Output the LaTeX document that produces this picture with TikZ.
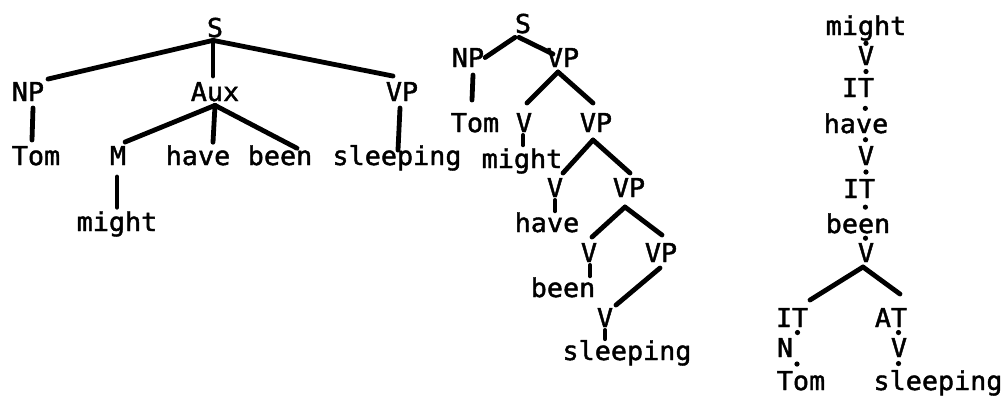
\documentclass[tikz,border=0pt]{standalone}
\usepackage{fontspec}
\newfontfamily\treefont[FakeStretch=1.03,FakeBold=1.6]{DejaVu Sans Mono}
\begin{document}
\begin{tikzpicture}[x=1pt,y=1pt,
  lbl/.style={inner sep=0pt, outer sep=0pt, anchor=base, font=\treefont\fontsize{26}{26}\selectfont},
  edge/.style={line width=4.8pt, line cap=round},
  stubline/.style={line width=4pt, line cap=round, shorten <=3pt, shorten >=1pt},
  dotmark/.style={circle, fill=black, inner sep=0pt, minimum size=5.2pt}]
\useasboundingbox (0,0) rectangle (1005,-402);
% ---------- tree 1 ----------
\node[lbl] (S1) at (215,-37) {S};
\node[lbl] (NP1) at (28,-101) {NP};
\node[lbl] (Aux1) at (215,-101) {Aux};
\node[lbl] (VP1) at (402,-101) {VP};
\node[lbl] (Tom1) at (36,-165) {Tom};
\node[lbl] (M1) at (118,-165) {M};
\node[lbl] (have1) at (198,-165) {have};
\node[lbl] (been1) at (280,-165) {been};
\node[lbl] (sleep1) at (397,-165) {sleeping};
\node[lbl] (might1) at (117,-231) {might};
\draw[edge] ([xshift=-2pt,yshift=-3pt]S1.south) -- ([xshift=20pt,yshift=3pt]NP1.north);
\draw[edge] ([xshift=-2pt,yshift=-4pt]S1.south) -- ([xshift=-2pt,yshift=6pt]Aux1.north);
\draw[edge] ([xshift=-2pt,yshift=-3pt]S1.south) -- ([xshift=-9pt,yshift=6pt]VP1.north);
\draw[edge] ([xshift=5pt,yshift=-7pt]NP1.south) -- ([xshift=-4pt,yshift=6pt]Tom1.north);
\draw[edge] ([yshift=-4pt]Aux1.south) -- ([xshift=7pt,yshift=4pt]M1.north);
\draw[edge] ([yshift=-4pt]Aux1.south) -- ([xshift=15pt,yshift=3pt]have1.north);
\draw[edge] ([yshift=-4pt]Aux1.south) -- ([xshift=17pt,yshift=-3pt]been1.north);
\draw[edge] ([xshift=-2pt,yshift=-7pt]VP1.south) -- ([xshift=1pt,yshift=-5pt]sleep1.north);
\draw[edge] ([xshift=-1pt,yshift=-12pt]M1.south) -- ([xshift=0pt,yshift=4pt]might1.north);
% ---------- tree 2 ----------
\node[lbl] (S2) at (523,-33) {S};
\node[lbl] (NP2) at (468,-67) {NP};
\node[lbl] (VP2a) at (563,-67) {VP};
\node[lbl] (Tom2) at (475,-132) {Tom};
\node[lbl] (V2a) at (524,-132) {V};
\node[lbl] (VP2b) at (596,-132) {VP};
\node[lbl] (might2) at (522,-168) {might};
\node[lbl] (V2b) at (555,-197) {V};
\node[lbl] (VP2c) at (629,-197) {VP};
\node[lbl] (have2) at (547,-232) {have};
\node[lbl] (V2c) at (589,-262) {V};
\node[lbl] (VP2d) at (661,-262) {VP};
\node[lbl] (been2) at (563,-297) {been};
\node[lbl] (V2d) at (605,-327) {V};
\node[lbl] (sleep2) at (627,-360) {sleeping};
\draw[edge] ([xshift=-8pt,yshift=-4pt]S2.south) -- ([xshift=1pt]NP2.east);
\draw[edge] ([xshift=-4pt,yshift=-4pt]S2.south) -- ([xshift=-10pt,yshift=-6pt]VP2a.north);
\draw[edge] ([xshift=5pt,yshift=-8pt]NP2.south) -- ([xshift=-3pt,yshift=13pt]Tom2.north);
\draw[edge] ([xshift=-5pt,yshift=-5pt]VP2a.south) -- ([xshift=3pt,yshift=10pt]V2a.north);
\draw[edge] ([xshift=-5pt,yshift=-5pt]VP2a.south) -- ([xshift=-3pt,yshift=10pt]VP2b.north);
\draw[edge] ([xshift=-3pt,yshift=-8pt]VP2b.south) -- ([xshift=8pt,yshift=5pt]V2b.north);
\draw[edge] ([xshift=-3pt,yshift=-8pt]VP2b.south) -- ([xshift=1pt,yshift=5pt]VP2c.north);
\draw[edge] ([xshift=-4pt,yshift=-10pt]VP2c.south) -- ([xshift=3pt,yshift=6pt]V2c.north);
\draw[edge] ([xshift=-4pt,yshift=-10pt]VP2c.south) -- ([xshift=1pt,yshift=8pt]VP2d.north);
\draw[edge] ([xshift=-1pt,yshift=-6pt]VP2d.south) -- ([xshift=11pt,yshift=3pt]V2d.north);
\draw[stubline] ([xshift=-1pt]V2a.south) -- ([xshift=1pt,yshift=2pt]might2.north);
\draw[stubline] (V2b.south) -- ([xshift=8pt]have2.north);
\draw[stubline] ([xshift=1pt]V2c.south) -- ([xshift=27pt]been2.north);
\draw[stubline] (V2d.south) -- ([xshift=-22pt]sleep2.north);
% ---------- tree 3 ----------
\node[lbl] (might3) at (866,-35) {might};
\node[lbl] (V3a) at (866,-65) {V};
\node[lbl] (IT3a) at (858,-97) {IT};
\node[lbl] (have3) at (856,-133) {have};
\node[lbl] (V3b) at (866,-165) {V};
\node[lbl] (IT3b) at (859,-198) {IT};
\node[lbl] (been3) at (858,-233) {been};
\node[lbl] (V3c) at (866,-262) {V};
\node[lbl] (IT3c) at (792,-327) {IT};
\node[lbl] (AT3) at (891,-327) {AT};
\node[lbl] (N3) at (785,-357) {N};
\node[lbl] (V3d) at (899,-357) {V};
\node[lbl] (Tom3) at (801,-390) {Tom};
\node[lbl] (sleep3) at (938,-390) {sleeping};
\draw[edge] ([xshift=-3pt,yshift=-5pt]V3c.south) -- ([xshift=18pt,yshift=8pt]IT3c.north);
\draw[edge] ([xshift=-3pt,yshift=-5pt]V3c.south) -- ([xshift=9pt,yshift=14pt]AT3.north);
\path (might3.south) -- (V3a.north) node[midway,dotmark] {};
\path (V3a.south) -- ([xshift=8pt]IT3a.north) node[midway,dotmark] {};
\path ([xshift=8pt]IT3a.south) -- ([xshift=9pt]have3.north) node[pos=0.7,dotmark] {};
\path ([xshift=9pt]have3.south) -- (V3b.north) node[midway,dotmark] {};
\path (V3b.south) -- ([xshift=7pt]IT3b.north) node[midway,dotmark] {};
\path ([xshift=7pt]IT3b.south) -- ([xshift=7pt]been3.north) node[pos=0.6,dotmark] {};
\path ([xshift=7pt]been3.south) -- (V3c.north) node[midway,dotmark] {};
\path ([xshift=6pt]IT3c.south) -- ([xshift=12pt]N3.north) node[midway,dotmark] {};
\path ([xshift=12pt]N3.south) -- ([xshift=-4pt]Tom3.north) node[midway,dotmark] {};
\path ([xshift=7pt]AT3.south) -- (V3d.north) node[midway,dotmark] {};
\path (V3d.south) -- ([xshift=-40pt]sleep3.north) node[midway,dotmark] {};
\end{tikzpicture}
\end{document}
